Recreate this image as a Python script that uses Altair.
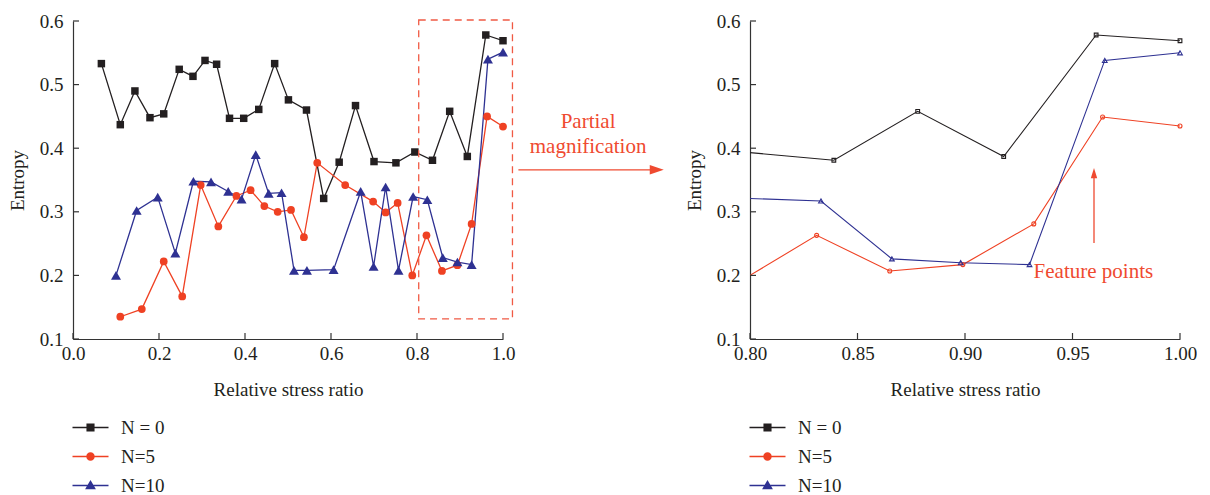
import altair as alt
import pandas as pd

FONT = "Liberation Serif"

series_names = ["N = 0", "N=5", "N=10"]
series_colors = ["#231f20", "#ef4123", "#2e3192"]
note_color = "#ef4a30"

left_n0_x = [0.066, 0.110, 0.144, 0.179, 0.211, 0.247, 0.279, 0.307, 0.334, 0.364, 0.397, 0.432, 0.469,
             0.501, 0.543, 0.583, 0.619, 0.657, 0.700, 0.751, 0.795, 0.836, 0.876, 0.917, 0.960, 1.000]
left_n0_y = [0.533, 0.437, 0.490, 0.448, 0.454, 0.524, 0.513, 0.538, 0.532, 0.447, 0.447, 0.461, 0.533,
             0.476, 0.460, 0.321, 0.378, 0.467, 0.379, 0.377, 0.394, 0.381, 0.458, 0.387, 0.578, 0.569]
left_n5_x = [0.110, 0.160, 0.211, 0.254, 0.297, 0.338, 0.380, 0.413, 0.445, 0.476, 0.507, 0.537, 0.568,
             0.633, 0.698, 0.727, 0.755, 0.789, 0.822, 0.858, 0.894, 0.927, 0.963, 1.000]
left_n5_y = [0.135, 0.147, 0.222, 0.167, 0.342, 0.277, 0.325, 0.334, 0.309, 0.300, 0.303, 0.260, 0.377,
             0.342, 0.316, 0.299, 0.314, 0.200, 0.263, 0.207, 0.216, 0.281, 0.450, 0.434]
left_n10_x = [0.100, 0.148, 0.197, 0.238, 0.280, 0.321, 0.361, 0.392, 0.425, 0.455, 0.485, 0.514, 0.544,
              0.606, 0.669, 0.699, 0.727, 0.757, 0.791, 0.824, 0.860, 0.894, 0.927, 0.965, 1.000]
left_n10_y = [0.200, 0.302, 0.323, 0.235, 0.348, 0.347, 0.332, 0.320, 0.390, 0.329, 0.330, 0.208, 0.208,
              0.209, 0.332, 0.214, 0.339, 0.208, 0.324, 0.319, 0.228, 0.221, 0.217, 0.540, 0.551]

right_n0_x = [0.800, 0.839, 0.878, 0.918, 0.961, 1.000]
right_n0_y = [0.393, 0.381, 0.458, 0.387, 0.578, 0.569]
right_n5_x = [0.800, 0.831, 0.865, 0.899, 0.932, 0.964, 1.000]
right_n5_y = [0.200, 0.263, 0.207, 0.217, 0.281, 0.449, 0.435]
right_n10_x = [0.800, 0.833, 0.866, 0.898, 0.930, 0.965, 1.000]
right_n10_y = [0.321, 0.317, 0.226, 0.220, 0.217, 0.538, 0.550]

y_ticks = [0.1, 0.2, 0.3, 0.4, 0.5, 0.6]
left_x_ticks = [0.0, 0.2, 0.4, 0.6, 0.8, 1.0]
right_x_ticks = [0.80, 0.85, 0.90, 0.95, 1.00]
y_domain = [0.1, 0.6]

box_x = [0.804, 1.022]
box_y = [0.1317, 0.6016]
mid_arrow_x = [0.02, 0.875]
mid_arrow_y = 0.366
mid_text = ["Partial", "magnification"]
mid_text_x = [0.43, 0.43]
mid_text_y = [0.441, 0.402]
fp_arrow_x = 0.960
fp_arrow_y = [0.251, 0.369]
fp_text = "Feature points"
fp_text_x = 0.9597
fp_text_y = 0.205

W, H = 430, 318
AXIS_COLOR = "#333333"
TICK_LEN = 6

legend_paths = [
    "M-2,-0.07H-0.4V0.07H-2ZM0.4,-0.07H2V0.07H0.4ZM-0.45,-0.45H0.45V0.45H-0.45Z",
    "M-2,-0.07H-0.4V0.07H-2ZM0.4,-0.07H2V0.07H0.4ZM-0.47,0A0.47,0.47,0,1,1,0.47,0A0.47,0.47,0,1,1,-0.47,0Z",
    "M-2,-0.07H-0.3V0.07H-2ZM0.3,-0.07H2V0.07H0.3ZM0,-0.62L0.6,0.42H-0.6Z",
]


def long_df(xs_list, ys_list):
    rows = []
    for name, xs, ys in zip(series_names, xs_list, ys_list):
        for x, y in zip(xs, ys):
            rows.append({"x": x, "y": y, "series": name})
    return pd.DataFrame(rows)


def panel(df, xdom, xticks, xfmt, styles, line_w, right=False):
    xs = alt.Scale(domain=xdom, nice=False, zero=False)
    ys = alt.Scale(domain=y_domain, nice=False, zero=False)
    xenc = alt.X("x:Q", scale=xs, axis=alt.Axis(values=xticks, format=xfmt, title="Relative stress ratio",
                                                labelFlush=False, labelPadding=5, titlePadding=17))
    yenc = alt.Y("y:Q", scale=ys, axis=alt.Axis(values=y_ticks, format=".1f", title="Entropy",
                                                labelFlush=False, labelPadding=10, titlePadding=12))
    cscale = alt.Scale(domain=series_names, range=series_colors)
    base = alt.Chart(df)

    leg = alt.Legend(title=None, orient="none", legendX=8, legendY=397, direction="vertical",
                     symbolSize=324, symbolStrokeWidth=0, labelFont=FONT, labelFontSize=19,
                     labelColor="#231f20", rowPadding=9, labelOffset=21, symbolOpacity=1)
    legend_layer = base.transform_filter("false").mark_point(filled=True, opacity=1, size=324).encode(
        x=xenc, y=yenc,
        color=alt.Color("series:N", scale=cscale, legend=leg),
        shape=alt.Shape("series:N", scale=alt.Scale(domain=series_names, range=legend_paths), legend=leg),
    )
    layers = [legend_layer]
    for name, col in zip(series_names, series_colors):
        ln = base.transform_filter(alt.datum.series == name).mark_line(
            strokeWidth=line_w, clip=True, color=col).encode(x=xenc, y=yenc)
        layers.append(ln)
    for name, col, st in zip(series_names, series_colors, styles):
        cond = alt.datum.series == name
        if right:
            cond = (alt.datum.series == name) & (alt.datum.x > 0.801)
        pts = base.transform_filter(cond).mark_point(opacity=1, color=col, **st).encode(x=xenc, y=yenc)
        layers.append(pts)

    # inward-pointing axis ticks
    xt = alt.Chart(pd.DataFrame({"t": xticks})).mark_tick(
        color=AXIS_COLOR, thickness=1.2, size=TICK_LEN, orient="vertical", opacity=1).encode(
        x=alt.X("t:Q", scale=xs), y=alt.value(H - TICK_LEN / 2))
    yt = alt.Chart(pd.DataFrame({"t": y_ticks})).mark_tick(
        color=AXIS_COLOR, thickness=1.2, size=TICK_LEN, orient="horizontal", opacity=1).encode(
        y=alt.Y("t:Q", scale=ys), x=alt.value(TICK_LEN / 2))
    layers += [xt, yt]
    return layers, xs, ys


left_df = long_df([left_n0_x, left_n5_x, left_n10_x], [left_n0_y, left_n5_y, left_n10_y])
right_df = long_df([right_n0_x, right_n5_x, right_n10_x], [right_n0_y, right_n5_y, right_n10_y])

left_styles = [
    dict(shape="square", filled=True, size=56),
    dict(shape="circle", filled=True, size=60),
    dict(shape="triangle-up", filled=True, size=100),
]
right_styles = [
    dict(shape="square", filled=False, size=14, strokeWidth=1.1),
    dict(shape="circle", filled=False, size=16, strokeWidth=1.1),
    dict(shape="triangle-up", filled=False, size=22, strokeWidth=1.1),
]

l_layers, lxs, lys = panel(left_df, [0.0, 1.0], left_x_ticks, ".1f", left_styles, 1.3)
box = alt.Chart(pd.DataFrame({"x1": [box_x[0]], "x2": [box_x[1]], "y1": [box_y[0]], "y2": [box_y[1]]})).mark_rect(
    fillOpacity=0, stroke="#f05a44", strokeWidth=1.3, strokeDash=[7, 5]).encode(
    x=alt.X("x1:Q", scale=lxs), x2="x2:Q", y=alt.Y("y1:Q", scale=lys), y2="y2:Q")
left = alt.layer(*l_layers, box).properties(width=W, height=H)

r_layers, rxs, rys = panel(right_df, [0.8, 1.0], right_x_ticks, ".2f", right_styles, 1.1, right=True)
fp_rule = alt.Chart(pd.DataFrame({"x": [fp_arrow_x], "y1": [fp_arrow_y[0]], "y2": [fp_arrow_y[1] - 0.01]})).mark_rule(
    color=note_color, strokeWidth=1.3).encode(x=alt.X("x:Q", scale=rxs), y=alt.Y("y1:Q", scale=rys), y2="y2:Q")
fp_head = alt.Chart(pd.DataFrame({"x": [fp_arrow_x], "y": [fp_arrow_y[1]]})).mark_point(
    shape="M0,0L0.4,1.3L-0.4,1.3Z", filled=True, opacity=1, size=256, color=note_color).encode(
    x=alt.X("x:Q", scale=rxs), y=alt.Y("y:Q", scale=rys))
fp_label = alt.Chart(pd.DataFrame({"x": [fp_text_x], "y": [fp_text_y], "t": [fp_text]})).mark_text(
    font=FONT, fontSize=21, color=note_color, align="center", baseline="middle").encode(
    x=alt.X("x:Q", scale=rxs), y=alt.Y("y:Q", scale=rys), text="t:N")
right = alt.layer(*r_layers, fp_rule, fp_head, fp_label).properties(width=W, height=H)

mxs = alt.Scale(domain=[0, 1], nice=False, zero=False)
mys = alt.Scale(domain=y_domain, nice=False, zero=False)
mid_rule = alt.Chart(pd.DataFrame({"x1": [mid_arrow_x[0]], "x2": [mid_arrow_x[1] - 0.02], "y": [mid_arrow_y]})).mark_rule(
    color=note_color, strokeWidth=1.3).encode(
    x=alt.X("x1:Q", scale=mxs, axis=None), x2="x2:Q", y=alt.Y("y:Q", scale=mys, axis=None))
mid_head = alt.Chart(pd.DataFrame({"x": [mid_arrow_x[1]], "y": [mid_arrow_y]})).mark_point(
    shape="M0,0L-1.75,-0.6L-1.75,0.6Z", filled=True, opacity=1, size=256, color=note_color).encode(
    x=alt.X("x:Q", scale=mxs, axis=None), y=alt.Y("y:Q", scale=mys, axis=None))
mid_label = alt.Chart(pd.DataFrame({"x": mid_text_x, "y": mid_text_y, "t": mid_text})).mark_text(
    font=FONT, fontSize=21, color=note_color, align="center", baseline="middle").encode(
    x=alt.X("x:Q", scale=mxs, axis=None), y=alt.Y("y:Q", scale=mys, axis=None), text="t:N")
middle = alt.layer(mid_rule, mid_head, mid_label).properties(width=170, height=H)

chart = alt.hconcat(left, middle, right, spacing=0).resolve_scale(
    color="independent", shape="independent").resolve_legend(
    color="independent", shape="independent").properties(
    padding={"left": 0, "top": 4, "right": 0, "bottom": 0}
).configure_view(stroke=None).configure_axis(
    labelFont=FONT, titleFont=FONT, labelFontSize=19, titleFontSize=19, titleFontWeight="normal",
    labelColor="#231f20", titleColor="#231f20", domainColor=AXIS_COLOR, domainWidth=1.2,
    ticks=False, grid=False
)

chart.save("out.html", embed_options={"renderer": "svg", "actions": False})
